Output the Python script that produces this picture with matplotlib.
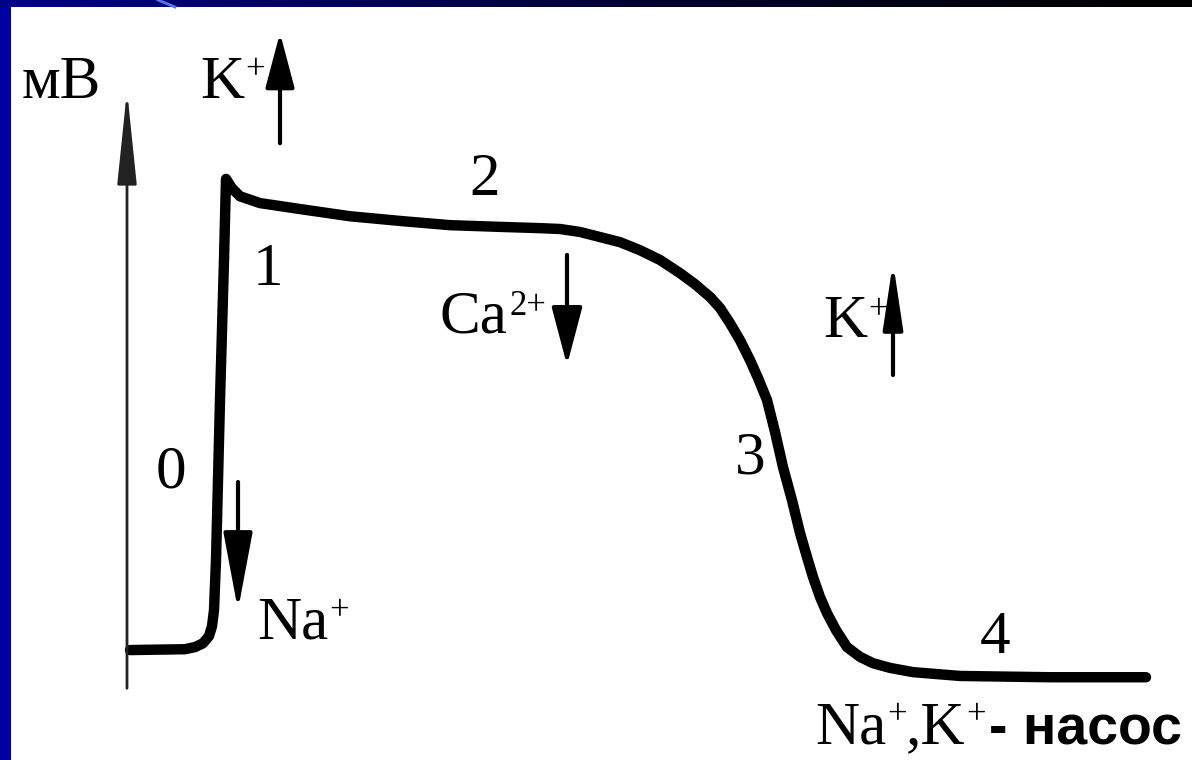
import matplotlib
matplotlib.use("Agg")
import matplotlib.pyplot as plt
import numpy as np
from matplotlib.lines import Line2D

# cardiac action potential, membrane potential (mV) vs time (ms)
time_ms = [0, 22, 26, 29.2, 31.6, 32.8, 33.6, 34.4, 35.2, 36.0, 36.8, 37.6, 38.4,
           40.8, 44, 52, 68, 88, 108, 128, 148, 164, 172, 180, 188, 196, 204, 212,
           220, 226, 232, 236, 240, 244, 248, 251.2, 254.8, 258, 261.2, 264.8, 268,
           270.8, 273.2, 276, 278.8, 282.4, 286.8, 292, 297.2, 304, 313.2, 332, 368, 406.4]
potential_mv = [-90, -89.8, -89.3, -88.4, -86.7, -84.4, -80.6, -68.8, -50.0, -31.1, -14.6, 1.9, 21.0,
                18.8, 16.9, 15.3, 13.9, 12.2, 11.1, 10.1, 9.7, 9.4, 9.2, 8.5, 7.3, 6.1, 4.2, 1.9,
                -1.2, -3.8, -6.8, -9.4, -13.0, -17.0, -21.7, -25.9, -31.1, -38.6, -46.9, -54.7, -62.4,
                -68.1, -72.8, -77.5, -81.3, -85.3, -89.3, -91.6, -93.1, -94.2, -95.2, -96.1, -96.4, -96.4]

# phase numbers
phase_labels = ['0', '1', '2', '3', '4']
phase_t = [16.4, 55.2, 142, 248, 346]
phase_v = [-51.8, -4.0, 17.2, -48.3, -90.7]

# ion currents
ion_base = ['K', 'Ca', 'K', 'Na']
ion_sup = ['+', '2+', '+', '+']
ion_text_t = [28, 124, 277.2, 50.8]
ion_text_v = [40.1, -15.3, -16.3, -87.2]
arrow_t = [60, 174.8, 305.2, 43.2]
arrow_tail = [29.4, 3.1, -25.2, -50.4]
arrow_tip = [55.4, -22.9, 1.4, -80.6]

SERIF = 'Liberation Serif'

fig = plt.figure(figsize=(11.92, 7.6), dpi=100)
fig.patch.set_facecolor('#0000a0')

# gradient strip at the top
top = fig.add_axes([0, 753 / 760, 1, 7 / 760])
grad = np.linspace(0, 1, 256)
cols = np.zeros((1, 256, 3))
cols[0, :, 2] = 0.55 * (1 - grad) ** 1.3
top.imshow(cols, aspect='auto', extent=[0, 1, 0, 1])
top.axis('off')
fig.add_artist(Line2D([158 / 1192, 175 / 1192], [1, 753 / 760], color='#4a78ff', lw=2))

ax = fig.add_axes([11 / 1192, 0, 1181 / 1192, 753 / 760])
ax.set_xlim(-47.6, 424.8)
ax.set_ylim(-115.9, 61.5)
ax.axis('off')
ax.add_patch(plt.Rectangle((0, 0), 1, 1, transform=ax.transAxes, color='white', zorder=0))


def sup(anchor, s, size=25, dy=0.42):
    # superscript placed just right of the anchor text
    return ax.annotate(s, xy=(1, dy), xycoords=anchor, xytext=(1, 0),
                       textcoords='offset points', fontsize=size, family=SERIF,
                       ha='left', va='bottom')


# vertical axis with arrow
ax.annotate('', xy=(-1.2, 41.9), xytext=(-1.2, -99.0),
            arrowprops=dict(arrowstyle='-|>,head_length=5.8,head_width=0.6',
                            color='#222222', lw=2, mutation_scale=10,
                            shrinkA=0, shrinkB=0))
ax.text(-43.2, 40.1, 'мВ', fontsize=44, family=SERIF, va='baseline', ha='left')

ax.plot(time_ms, potential_mv, color='black', lw=7.5, solid_capstyle='round',
        solid_joinstyle='round')

for lab, t, v in zip(phase_labels, phase_t, phase_v):
    ax.text(t, v, lab, fontsize=44, family=SERIF, ha='center', va='baseline')

heads = [(3.4, 0.9), (3.6, 0.95), (4.0, 0.6), (4.8, 0.9)]
for i in range(len(ion_base)):
    base = ax.text(ion_text_t[i], ion_text_v[i], ion_base[i], fontsize=44,
                   family=SERIF, ha='left', va='baseline')
    sup(base, ion_sup[i])
    hl, hw = heads[i]
    ax.annotate('', xy=(arrow_t[i], arrow_tip[i]), xytext=(arrow_t[i], arrow_tail[i]),
                arrowprops=dict(arrowstyle='-|>,head_length=%s,head_width=%s' % (hl, hw),
                                color='black', lw=3, mutation_scale=10,
                                shrinkA=0, shrinkB=0))

# pump label: Na+,K+ - насос
na = ax.text(274, -111.9, 'Na', fontsize=44, family=SERIF, ha='left', va='baseline')
s1 = sup(na, '+')
k = ax.annotate(',K', xy=(1, 0), xycoords=na, xytext=(14, 0), textcoords='offset points',
                fontsize=44, family=SERIF, ha='left', va='bottom')
s2 = sup(k, '+')
ax.annotate('- насос', xy=(1, 0), xycoords=(s2, k), xytext=(2, 0), textcoords='offset points',
            fontsize=40, family='Liberation Sans', fontweight='bold', ha='left', va='bottom')

fig.savefig('out.png', dpi=100, facecolor=fig.get_facecolor())
